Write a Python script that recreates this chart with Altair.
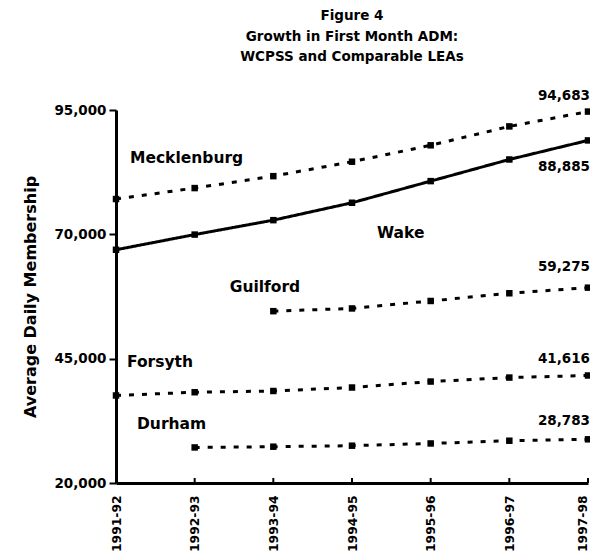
import altair as alt
import pandas as pd

years = ["1991-92", "1992-93", "1993-94", "1994-95", "1995-96", "1996-97", "1997-98"]
series_names = ["Mecklenburg", "Wake", "Guilford", "Forsyth", "Durham"]
mecklenburg = [77100, 79300, 81700, 84600, 87900, 91700, 94683]
wake = [66900, 69950, 72850, 76350, 80700, 85050, 88885]
guilford = [None, None, 54550, 55100, 56600, 58150, 59275]
forsyth = [37600, 38250, 38500, 39200, 40400, 41200, 41616]
durham = [None, 27150, 27300, 27500, 27950, 28500, 28783]
y_ticks = [20000, 45000, 70000, 95000]
end_labels = ["94,683", "88,885", "59,275", "41,616", "28,783"]

# annotation placement (kept apart from the data)
name_anchor_year = ["1991-92", "1994-95", "1992-93", "1991-92", "1991-92"]
name_anchor_value = [85300, 70250, 59390, 44300, 31820]
name_dx = [14, 25, 35, 11, 21]
end_dy = [-16, 27, -21, -16, -18]

FONT = "DejaVu Sans"

all_values = [mecklenburg, wake, guilford, forsyth, durham]
rows = []
for name, vals in zip(series_names, all_values):
    for yr, v in zip(years, vals):
        if v is not None:
            rows.append({"series": name, "year": yr, "value": v})
df = pd.DataFrame(rows)

x_enc = alt.X(
    "year:O", sort=years,
    scale=alt.Scale(type="point", padding=0),
    axis=alt.Axis(
        title=None, labelAngle=270, labelAlign="right", labelBaseline="middle",
        labelFont=FONT, labelFontSize=12.3, labelFontWeight="bold", labelColor="black",
        labelPadding=12, ticks=False, domainColor="black", domainWidth=3,
        labelOffset={"condition": {"test": "datum.label === '1997-98'", "value": -6}, "value": 0},
    ),
)
y_scale = alt.Scale(domain=[20000, 95000], nice=False, zero=False)
y_enc = alt.Y(
    "value:Q", scale=y_scale,
    axis=alt.Axis(
        title="Average Daily Membership", values=y_ticks, format=",.0f",
        labelFont=FONT, labelFontSize=13.5, labelFontWeight="bold", labelColor="black",
        labelPadding=3, tickSize=7, tickWidth=2, tickColor="black",
        domainColor="black", domainWidth=3, grid=False,
        titleFont=FONT, titleFontSize=16, titleFontWeight="bold", titleColor="black",
        titlePadding=15,
    ),
)

base = alt.Chart(df)
lines = base.mark_line(color="black", strokeWidth=3).encode(
    x=x_enc, y=y_enc,
    detail="series:N",
    strokeDash=alt.condition(
        alt.datum.series == "Wake", alt.value([1, 0]), alt.value([5, 8])
    ),
)
points = base.mark_square(color="black", size=42, opacity=1).encode(
    x=alt.X("year:O", sort=years), y=alt.Y("value:Q"),
)

xticks = alt.Chart(pd.DataFrame({"year": years})).mark_rule(color="black", strokeWidth=2).encode(
    x=alt.X("year:O", sort=years), y=alt.value(373), y2=alt.value(368)
)

layers = [lines, points, xticks]

for name, yr, val, dx in zip(series_names, name_anchor_year, name_anchor_value, name_dx):
    layers.append(
        alt.Chart(pd.DataFrame({"year": [yr], "value": [val], "t": [name]})).mark_text(
            align="left", baseline="middle", font=FONT, fontSize=15.5,
            fontWeight="bold", color="black", dx=dx,
        ).encode(x=alt.X("year:O", sort=years), y=alt.Y("value:Q"), text="t:N")
    )

for vals, lab, dy in zip(all_values, end_labels, end_dy):
    layers.append(
        alt.Chart(pd.DataFrame({"year": [years[-1]], "value": [vals[-1]], "t": [lab]})).mark_text(
            align="right", baseline="middle", font=FONT, fontSize=13.5,
            fontWeight="bold", color="black", dx=2, dy=dy,
        ).encode(x=alt.X("year:O", sort=years), y=alt.Y("value:Q"), text="t:N")
    )

chart = alt.layer(*layers).properties(
    width=472, height=373,
    autosize=alt.AutoSizeParams(type="none"),
    padding={"left": 108, "top": 102, "right": 2, "bottom": 69},
    title=alt.Title(
        ["Figure 4", "Growth in First Month ADM:", "WCPSS and Comparable LEAs"],
        font=FONT, fontSize=13.5, fontWeight="bold", color="black",
        lineHeight=20.5, anchor="middle", offset=25,
    ),
).configure_view(stroke=None)

chart.save("out.html", embed_options={"renderer": "svg", "actions": False})
